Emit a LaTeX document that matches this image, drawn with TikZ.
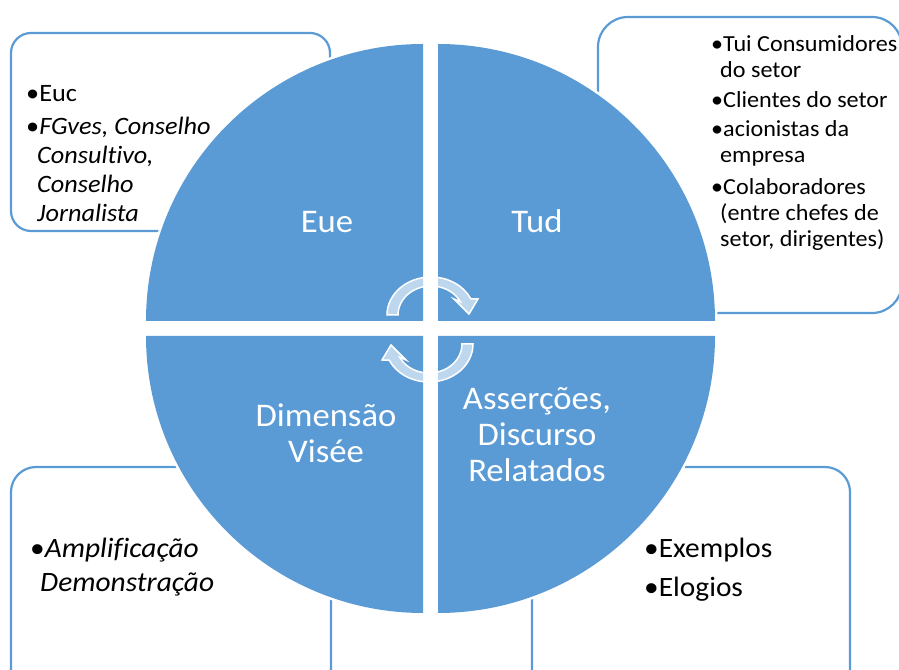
\documentclass[tikz,border=0pt]{standalone}
\usepackage{fontspec}
\setmainfont{Carlito}[FakeStretch=1.05, Ligatures=NoCommon]
\definecolor{myblue}{HTML}{5B9BD5}
\begin{document}
\begin{tikzpicture}[x=1pt,y=1pt,
  frame/.style={draw=myblue, line width=2.2pt},
  quad/.style={fill=myblue, preaction={draw=white, line width=5pt}},
  cyc/.style={fill=white, fill opacity=0.6, draw=white, line width=1.5pt},
  plab/.style={text=white, inner sep=0pt, font=\fontsize{33}{36}\selectfont, anchor=base},
  tltxt/.style={inner sep=0pt, anchor=base west, font=\fontsize{25}{29}\selectfont},
  trtxt/.style={inner sep=0pt, anchor=base west, font=\fontsize{23}{26}\selectfont},
  bttxt/.style={inner sep=0pt, anchor=base west, font=\fontsize{28}{34}\selectfont},
]
\useasboundingbox (0,0) rectangle (899,669);
\clip (0,0) rectangle (899,669);

% side boxes
\draw[frame, rounded corners=20pt] (11,438) rectangle (330,636);
\draw[frame, rounded corners=30pt] (598,356) rectangle (902,652);
\draw[frame, rounded corners=25pt] (11,-30) rectangle (331,202);
\draw[frame, rounded corners=25pt] (532,-30) rectangle (850,202);

% pie quadrants
\coordinate (qtl) at (423,348);
\coordinate (qtr) at (438,348);
\coordinate (qbl) at (423,333);
\coordinate (qbr) at (438,333);
\path[quad] (qtl) -- ++(-277,0) arc[start angle=180, end angle=90, radius=277pt] -- cycle;
\path[quad] (qtr) -- ++(0,277) arc[start angle=90, end angle=0, radius=277pt] -- cycle;
\path[quad] (qbl) -- ++(0,-277) arc[start angle=270, end angle=180, radius=277pt] -- cycle;
\path[quad] (qbr) -- ++(277,0) arc[start angle=0, end angle=-90, radius=277pt] -- cycle;

% pie labels
\node[plab] (eue) at (327,436) {Eue};
\node[plab] (tud) at (537,436) {Tud};
\node[plab] (dim1) at (326,242) {Dimensão};
\node[plab] (dim2) at (326,206) {Visée};
\node[plab] (ass1) at (537,259) {Asserções,};
\node[plab] (ass2) at (537,223) {Discurso};
\node[plab] (ass3) at (537,187) {Relatados};

% cycle arrows
\coordinate (ca) at (431,354);
\coordinate (cb) at (429,325);
\path[cyc] ([shift={(-33,0)}]ca) -- ([shift={(-44,0)}]ca)
  arc[start angle=180, end angle=25, x radius=44pt, y radius=38pt]
  -- ([shift={(47,16)}]ca) -- ([shift={(38,1)}]ca) -- ([shift={(23,16)}]ca)
  -- ([shift={(29.4,13.2)}]ca)
  arc[start angle=27, end angle=180, x radius=33pt, y radius=29pt] -- cycle;
\path[cyc] ([shift={(33,0)}]cb) -- ([shift={(44,0)}]cb)
  arc[start angle=0, end angle=-155, x radius=44pt, y radius=38pt]
  -- ([shift={(-47,-16)}]cb) -- ([shift={(-38,-1)}]cb) -- ([shift={(-23,-16)}]cb)
  -- ([shift={(-29.4,-13.2)}]cb)
  arc[start angle=-153, end angle=0, x radius=33pt, y radius=29pt] -- cycle;

% top-left text
\node[tltxt] (tl1) at (26,567) {•Euc};
\node[tltxt] (tl2) at (26,534) {•\textit{FGves, Conselho}};
\node[tltxt] (tl3) at (37,505) {\textit{Consultivo,}};
\node[tltxt] (tl4) at (37,476) {\textit{Conselho}};
\node[tltxt] (tl5) at (37,447) {\textit{Jornalista}};

% top-right text
\node[trtxt] (tr1) at (711,617) {•Tui Consumidores};
\node[trtxt] (tr2) at (720,591) {do setor};
\node[trtxt] (tr3) at (711,561) {•Clientes do setor};
\node[trtxt] (tr4) at (711,532) {•acionistas da};
\node[trtxt] (tr5) at (720,506) {empresa};
\node[trtxt] (tr6) at (711,474) {•Colaboradores};
\node[trtxt] (tr7) at (720,448) {(entre chefes de};
\node[trtxt] (tr8) at (720,422) {setor, dirigentes)};

% bottom texts
\node[bttxt] (bl1) at (30,111) {•\textit{Amplificação}};
\node[bttxt] (bl2) at (40,77) {\textit{Demonstração}};
\node[bttxt] (br1) at (644,111) {•Exemplos};
\node[bttxt] (br2) at (644,72) {•Elogios};
\end{tikzpicture}
\end{document}
